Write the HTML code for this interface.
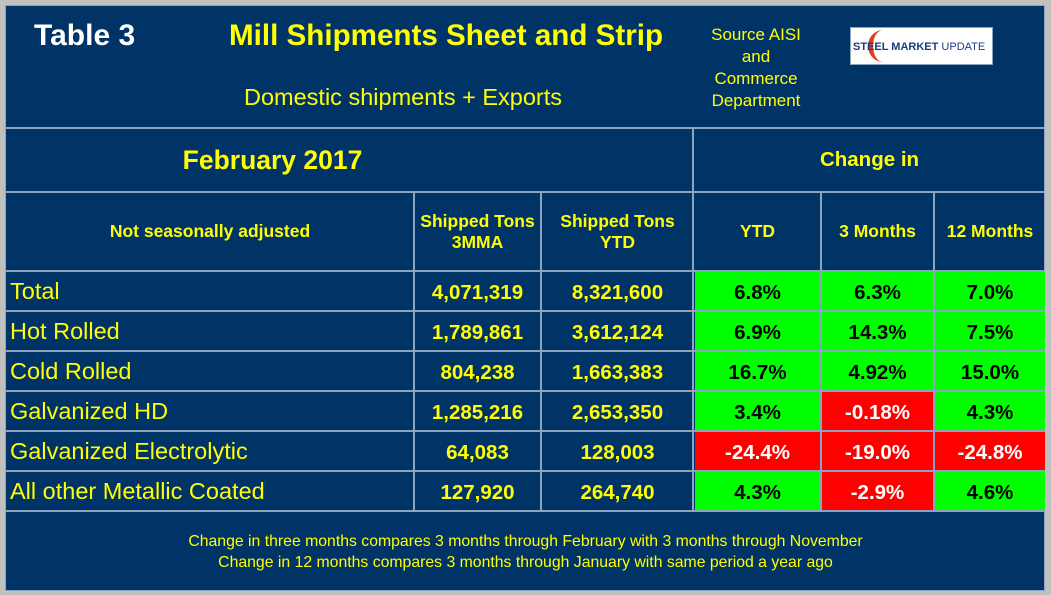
<!DOCTYPE html>
<html><head><meta charset="utf-8"><style>
body{margin:0;width:1051px;height:595px;background:#c0c0c0;font-family:"Liberation Sans",sans-serif;overflow:hidden}
#p{position:absolute;left:5px;top:5px;width:1040px;height:586px;background:#003366;border:1px solid #8ea3c0;box-sizing:border-box}
.t{position:absolute;color:#ffff00;white-space:nowrap}
.hl{position:absolute;height:2px;background:#8ea3c0}
.vl{position:absolute;width:2px;background:#8ea3c0}
.c{position:absolute;display:flex;align-items:center;justify-content:center;font-weight:bold;font-size:20.5px;color:#ffff00;text-align:center;box-sizing:border-box;padding-top:3px}
.g{background:#00ff00;color:#000}
.r{background:#ff0000;color:#fff}
.lab{justify-content:flex-start;font-weight:normal;font-size:23.5px;padding-left:5px;padding-top:0}
</style></head><body>
<div id="p"></div>
<div class="t" style="left:34px;top:19px;font-size:30px;font-weight:bold;color:#fff">Table 3</div>
<div class="t" style="left:229px;top:19px;font-size:29.6px;font-weight:bold">Mill Shipments Sheet and Strip</div>
<div class="t" style="left:244px;top:84px;font-size:23.5px">Domestic shipments + Exports</div>
<div class="t" style="left:700px;top:24px;width:112px;text-align:center;font-size:17px;line-height:22px;white-space:normal">Source AISI and Commerce Department</div>
<div style="position:absolute;left:850px;top:27px;width:143px;height:38px;background:#fff;border:1px solid #8ea3c0;box-sizing:border-box">
<div style="position:absolute;left:17px;top:2px;width:30px;height:32px;border-radius:50%;border-left:5px solid #e0401a;box-sizing:border-box"></div>
<div style="position:absolute;left:2px;top:13px;font-size:11px;font-weight:bold;color:#1a3d80;white-space:nowrap">STEEL MARKET <span style="font-weight:normal">UPDATE</span></div></div>
<div id="grid"></div>
<div class="t" style="left:0;width:1051px;top:531px;text-align:center;font-size:15.8px;line-height:21px">Change in three months compares 3 months through February with 3 months through November<br>Change in 12 months compares 3 months through January with same period a year ago</div>
<script>
const categories=["Total","Hot Rolled","Cold Rolled","Galvanized HD","Galvanized Electrolytic","All other Metallic Coated"];
const tons3mma=["4,071,319","1,789,861","804,238","1,285,216","64,083","127,920"];
const tonsYtd=["8,321,600","3,612,124","1,663,383","2,653,350","128,003","264,740"];
const chgYtd=["6.8%","6.9%","16.7%","3.4%","-24.4%","4.3%"];
const chg3m=["6.3%","14.3%","4.92%","-0.18%","-19.0%","-2.9%"];
const chg12m=["7.0%","7.5%","15.0%","4.3%","-24.8%","4.6%"];
const g=document.getElementById('grid');
const xs=[5,413,540,693,820,933,1045];
function add(cls,l,t,w,h,txt,name,inter){const d=document.createElement('div');d.className=cls;d.style.left=l+'px';d.style.top=t+'px';d.style.width=w+'px';d.style.height=h+'px';if(txt!=null)d.innerHTML=txt;


g.appendChild(d);return d;}
[127,191,270,310,350,390,430,470,510].forEach((y,i)=>add('hl',5,y,1040,2,null,'row-line',false));
add('vl',692,127,2,383,null,'col-line',false);
[413,540,820,933].forEach(x=>add('vl',x,191,2,319,null,'col-line',false));
const ph=add('c',5,129,535,62,'<span style="font-size:26.5px">February 2017</span>','period-header',false);
ph.style.paddingTop='0px';
const ch=add('c',694,129,351,62,'Change in','change-in-header',false);
ch.style.paddingTop='0px';
const heads=["Not seasonally adjusted","Shipped Tons<br>3MMA","Shipped Tons<br>YTD","YTD","3 Months","12 Months"];
heads.forEach((h,i)=>{const d=add('c',xs[i]+2,193,xs[i+1]-xs[i]-2,77,h,'column-header',false);d.style.fontSize='17.5px';d.style.paddingTop='0px';});
const cols=[tons3mma,tonsYtd,chgYtd,chg3m,chg12m];
categories.forEach((cat,r)=>{const y=272+r*40;
 add('c lab',5,y,408,38,cat,'row-label',false);
 cols.forEach((arr,j)=>{const v=arr[r];let cls='c';if(j>=2)cls+=v.startsWith('-')?' r':' g';
  add(cls,xs[j+1]+2,y,xs[j+2]-xs[j+1]-2,38,v,'cell-value',false);});
});
</script>
</body></html>
